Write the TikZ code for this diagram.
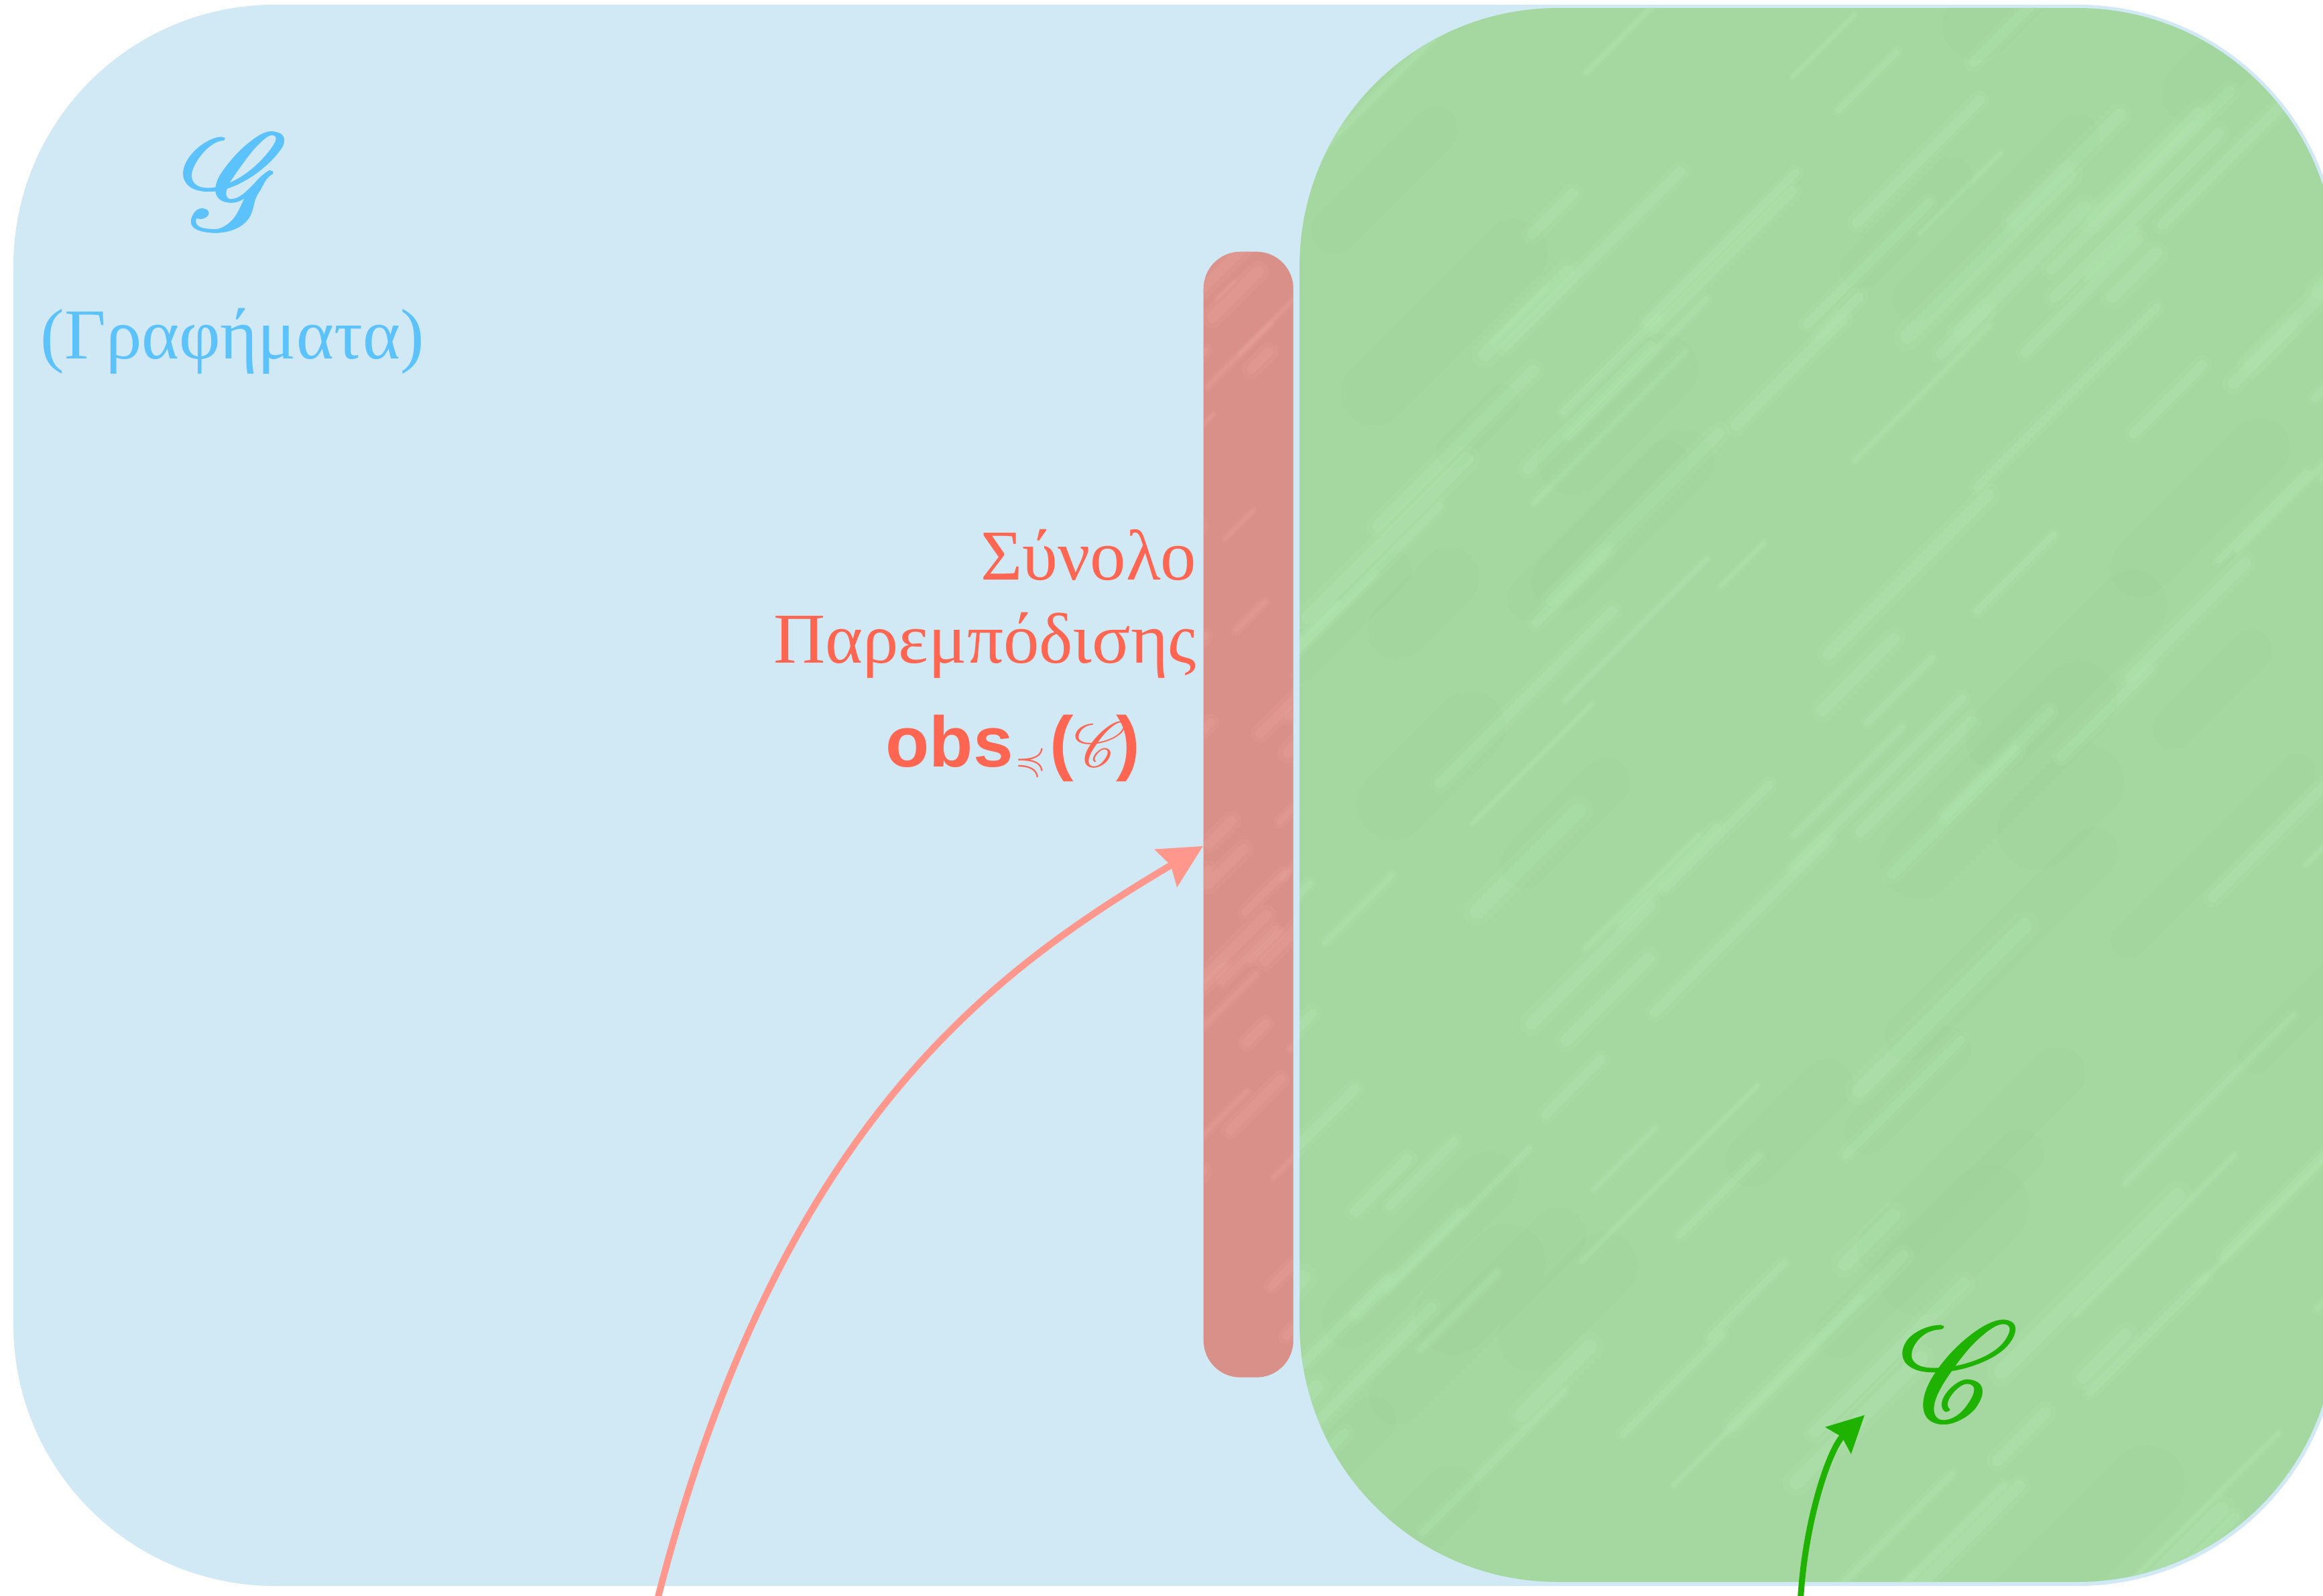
\documentclass[tikz,border=0pt]{standalone}
\usepackage{amssymb}
\usepackage{fontspec}
\setmainfont{Liberation Serif}
\newfontfamily\hsans{Liberation Sans}
\usetikzlibrary{calc,arrows.meta}

% a freely scalable copy of the rsfs script alphabet
\DeclareFontFamily{U}{rsfsx}{\skewchar\font'177}
\DeclareFontShape{U}{rsfsx}{m}{n}{<-> rsfs10}{}

\definecolor{graphbg}{HTML}{D1E8F5}
\definecolor{classfill}{HTML}{A5D8A0}
\definecolor{classstreak}{HTML}{B6EBB6}
\definecolor{classshade}{HTML}{9CCF97}
\definecolor{obsfill}{HTML}{D99088}
\definecolor{obsstreak}{HTML}{EBA69D}
\definecolor{blueink}{HTML}{5BC2FC}
\definecolor{redink}{HTML}{FF6652}
\definecolor{redarrow}{HTML}{FF978D}
\definecolor{greenink}{HTML}{1FB200}

\newcommand{\scriptletter}[2]{{\fontsize{#1}{#1}\usefont{U}{rsfsx}{m}{n}#2}}
% a slightly heavier script letter: the glyph set over itself a few times
\newcommand{\heavyletter}[2]{%
  \rlap{\kern0.012cm\scriptletter{#1}{#2}}%
  \rlap{\raisebox{0.012cm}{\scriptletter{#1}{#2}}}%
  \rlap{\kern0.024cm\raisebox{0.006cm}{\scriptletter{#1}{#2}}}%
  \scriptletter{#1}{#2}}

\tikzset{
  serifbig/.style={font=\fontsize{30.4}{36}\selectfont, inner sep=0pt},
  redlabel/.style={serifbig, text=redink, anchor=base east},
  obsbar/.style={fill=obsfill, rounded corners=0.55cm, minimum width=1.34cm,
                 minimum height=16.8cm, inner sep=0pt, anchor=north west},
  redconn/.style={draw=redarrow, line width=0.1cm,
                  -{Stealth[length=0.64cm, width=0.64cm, inset=0.08cm]}},
  greenconn/.style={draw=greenink, line width=0.09cm,
                  -{Stealth[length=0.54cm, width=0.54cm, inset=0.07cm]}},
}

\begin{document}
\begin{tikzpicture}
\useasboundingbox (0,0) rectangle (34.66,-23.82);

% the class of all graphs
\fill[graphbg, rounded corners=3.9cm] (0.20,-0.07) rectangle (34.90,-23.67);

% the minor-closed class, with a soft streaked texture
\begin{scope}
  \clip[rounded corners=3.85cm] (19.39,-0.12) rectangle (34.85,-23.61);
  \fill[classfill] (19,0) rectangle (35.5,-24);
  \pgfmathsetseed{11}
  \foreach \k in {1,...,40} {
    \pgfmathsetmacro{\sx}{17+rnd*19}
    \pgfmathsetmacro{\sy}{-25+rnd*26}
    \pgfmathsetmacro{\sl}{1+rnd*3}
    \pgfmathsetmacro{\sw}{0.5+rnd*0.8}
    \draw[classshade, line width=\sw cm, opacity=0.18, line cap=round]
      (\sx,\sy) -- ++(45:\sl);
  }
  \foreach \k in {1,...,150} {
    \pgfmathsetmacro{\sx}{17+rnd*19}
    \pgfmathsetmacro{\sy}{-25+rnd*26}
    \pgfmathsetmacro{\sl}{0.8+rnd*3.2}
    \pgfmathsetmacro{\sw}{0.06+rnd*0.16}
    \draw[classstreak, line width=2*\sw cm, opacity=0.14, line cap=round]
      (\sx,\sy) -- ++(45:\sl);
    \draw[classstreak, line width=\sw cm, opacity=0.22, line cap=round]
      (\sx,\sy) -- ++(45:\sl);
  }
\end{scope}

% the obstruction set bar
\node[obsbar, path picture={
    \pgfmathsetseed{5}
    \foreach \k in {1,...,45} {
      \pgfmathsetmacro{\sx}{-1+rnd*2.5}
      \pgfmathsetmacro{\sy}{rnd*17.5}
      \pgfmathsetmacro{\sl}{0.3+rnd*1.2}
      \pgfmathsetmacro{\sw}{0.05+rnd*0.12}
      \draw[obsstreak, line width=2*\sw cm, opacity=0.15, line cap=round]
        ($(path picture bounding box.south west)+(\sx,\sy)$) -- ++(45:\sl);
      \draw[obsstreak, line width=\sw cm, opacity=0.25, line cap=round]
        ($(path picture bounding box.south west)+(\sx,\sy)$) -- ++(45:\sl);
    }
  }] (bar) at (17.95,-3.75) {};

% labels
\node[text=blueink, inner sep=0pt, anchor=base] (Gsym) at (3.34,-3.44)
  {\heavyletter{58}{G}};
\node[serifbig, text=blueink, anchor=base west] (Gname) at (0.60,-5.36) {(Γραφήματα)};

\node[redlabel] (obsA) at (17.86,-8.66) {Σύνολο};
\node[redlabel] (obsB) at (17.86,-9.90) {Παρεμπόδισης};
\node[redlabel] (obsC) at (17.02,-11.44)
  {{\hsans\bfseries obs}\kern0.03cm\raisebox{-0.07cm}{\fontsize{17}{17}\selectfont$\preccurlyeq$}\kern0.06cm{\hsans\bfseries(}\scriptletter{27}{C}{\hsans\bfseries)}};

\node[text=greenink, inner sep=0pt, anchor=base] (Csym) at (29.04,-21.22)
  {\heavyletter{60}{C}};

% connectors
\coordinate (redstart) at (9.79,-23.95);
\coordinate (greenstart) at (26.86,-23.95);
\coordinate (greentip) at (27.82,-21.12);

\draw[redconn] (redstart) .. controls (11.6,-16.8) and (14.8,-14.5)
  .. ($(bar.north west)!0.528!(bar.south west)$);
\draw[greenconn] (greenstart) .. controls (26.92,-22.70) and (27.30,-21.62)
  .. (greentip);
\end{tikzpicture}
\end{document}
